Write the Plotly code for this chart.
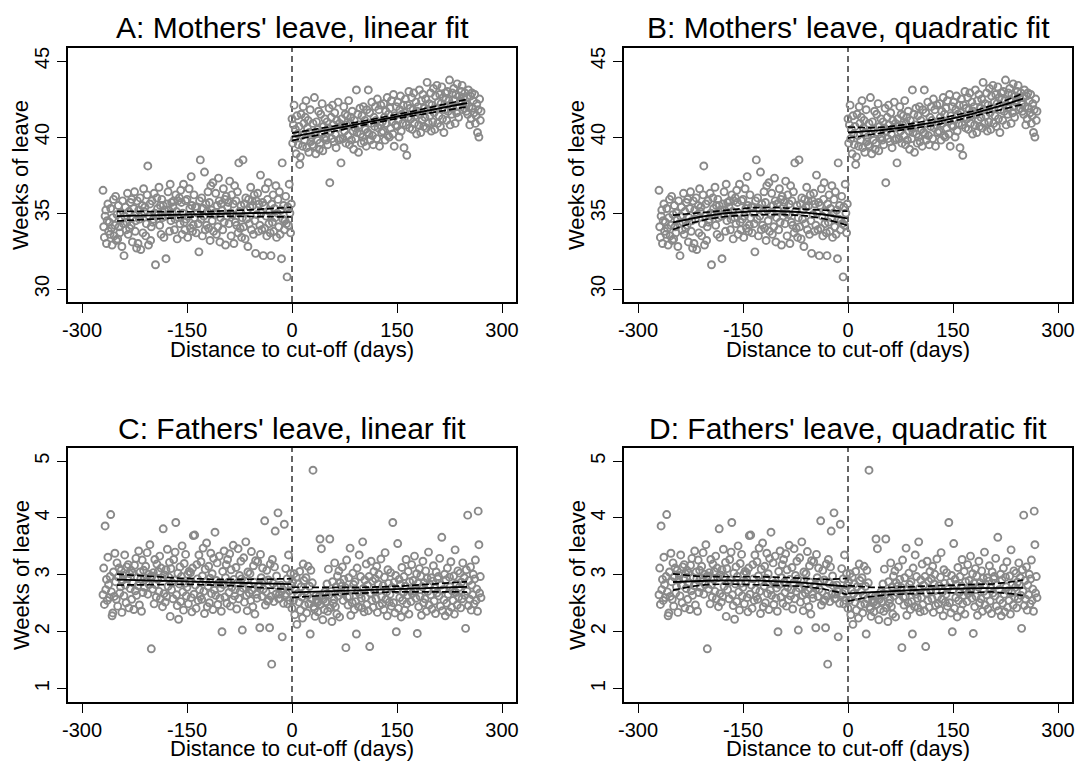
import numpy as np
import plotly.graph_objects as go

# Daily averages, days relative to the cut-off
days_before = list(range(-270, 0))
days_after = list(range(0, 271))

mothers_before = [
    36.5, 34.1, 33.4, 34.8, 35.2, 33.0, 34.5, 35.6, 33.8, 34.4,
    33.6, 35.3, 34.0, 32.9, 34.7, 35.9, 33.5, 34.2, 36.1, 33.2,
    34.9, 33.3, 35.5, 34.1, 33.7, 35.0, 34.6, 32.8, 35.8, 34.3,
    32.2, 34.8, 35.4, 33.9, 34.4, 36.3, 33.6, 35.1, 34.0, 35.7,
    34.2, 35.9, 33.1, 34.7, 35.3, 36.4, 33.8, 34.5, 32.7, 35.8,
    33.0, 35.2, 34.6, 36.0, 32.6, 34.9, 35.5, 33.7, 36.6, 35.1,
    35.4, 33.5, 34.3, 36.2, 38.1, 32.9, 34.8, 35.6, 33.2, 34.1,
    35.8, 34.4, 34.6, 36.3, 35.0, 31.6, 34.9, 36.0, 35.3, 34.9,
    36.7, 34.2, 35.5, 33.6, 35.9, 34.7, 35.5, 33.4, 35.2, 34.8,
    32.0, 35.6, 34.9, 36.4, 35.2, 33.8, 36.9, 34.5, 35.7, 35.0,
    35.4, 35.8, 33.9, 34.6, 36.2, 35.1, 33.3, 35.8, 34.7, 36.0,
    34.3, 36.5, 35.7, 33.6, 35.0, 36.9, 34.4, 33.9, 35.8, 34.6,
    35.9, 33.4, 34.8, 36.6, 35.3, 34.0, 37.4, 35.5, 33.8, 34.2,
    36.2, 34.7, 35.4, 33.7, 35.4, 35.0, 34.3, 32.45, 35.8, 38.5,
    34.6, 36.0, 33.5, 35.3, 34.8, 37.7, 33.9, 35.6, 34.2, 35.1,
    36.4, 34.0, 35.7, 33.2, 36.8, 35.2, 34.5, 37.0, 33.8, 35.0,
    34.9, 36.3, 33.6, 35.5, 34.1, 37.3, 35.8, 33.1, 34.7, 35.6,
    35.2, 33.9, 36.6, 34.4, 35.9, 32.9, 36.1, 34.8, 35.4, 35.7,
    34.3, 37.1, 35.0, 33.5, 36.2, 34.9, 35.6, 33.0, 36.8, 34.4,
    35.8, 34.2, 36.4, 33.7, 38.3, 35.1, 34.0, 35.5, 33.4, 34.7,
    38.5, 34.1, 35.6, 33.3, 36.0, 34.6, 35.2, 32.8, 35.9, 34.3,
    35.4, 36.7, 33.9, 35.8, 35.5, 33.6, 36.2, 34.5, 32.35, 35.8,
    34.9, 36.3, 33.8, 35.6, 34.2, 37.5, 35.0, 33.9, 35.7, 32.2,
    35.5, 34.0, 36.6, 34.8, 33.5, 35.9, 37.0, 34.3, 35.1, 33.7,
    32.2, 35.6, 34.4, 36.2, 33.8, 35.3, 34.7, 36.8, 33.4, 35.0,
    35.9, 34.1, 36.4, 33.6, 35.2, 32.0, 38.3, 34.6, 35.5, 33.9,
    34.5, 36.1, 34.3, 30.8, 35.4, 34.2, 36.9, 35.0, 33.7, 35.6,
]

mothers_after = [
    41.2, 39.6, 40.8, 42.1, 39.9, 40.5, 38.9, 41.4, 40.2, 39.5,
    40.7, 38.2, 38.7, 41.5, 40.1, 39.4, 42.0, 40.9, 39.8, 41.3,
    42.4, 39.3, 40.6, 41.1, 39.0, 40.3, 41.8, 39.7, 40.0, 39.5,
    40.9, 39.4, 42.6, 40.2, 38.9, 41.0, 39.8, 40.5, 41.7, 39.2,
    39.6, 41.5, 40.3, 42.2, 39.1, 40.7, 39.9, 41.2, 40.0, 39.8,
    41.0, 39.5, 40.6, 41.9, 37.0, 40.4, 41.3, 39.9, 42.1, 40.8,
    39.7, 41.6, 40.2, 39.3, 41.1, 40.6, 42.3, 39.8, 40.9, 39.9,
    38.3, 41.2, 40.7, 39.9, 42.0, 40.4, 41.5, 39.6, 40.8, 41.4,
    40.1, 42.4, 39.5, 40.9, 41.3, 39.8, 41.7, 40.4, 39.2, 41.1,
    40.6, 39.9, 43.1, 40.3, 41.5, 39.0, 40.8, 41.9, 40.2, 39.6,
    41.4, 40.0, 42.0, 39.7, 41.1, 40.5, 39.4, 41.8, 40.3, 43.1,
    40.2, 41.6, 39.8, 40.9, 42.3, 40.1, 39.5, 41.3, 40.7, 42.0,
    41.1, 39.9, 42.5, 40.6, 41.8, 39.4, 40.8, 42.1, 40.3, 41.0,
    40.4, 42.2, 41.3, 39.8, 41.7, 40.9, 42.6, 40.1, 41.5, 40.0,
    41.9, 40.6, 42.4, 41.0, 40.2, 42.8, 39.4, 41.4, 40.8, 42.0,
    40.7, 42.3, 41.1, 40.0, 41.8, 42.7, 40.4, 41.5, 40.9, 42.1,
    39.3, 41.6, 42.5, 40.8, 38.8, 42.1, 41.3, 43.0, 40.6, 41.9,
    41.2, 42.6, 40.5, 41.8, 42.9, 40.9, 41.4, 42.3, 40.2, 41.7,
    42.0, 40.8, 43.1, 41.5, 40.3, 42.4, 41.1, 42.8, 40.7, 41.9,
    41.3, 42.5, 40.6, 43.6, 41.8, 40.9, 42.2, 41.4, 42.9, 40.4,
    42.1, 41.0, 43.2, 41.6, 40.5, 42.7, 41.9, 43.4, 40.9, 42.3,
    41.4, 42.8, 40.7, 42.2, 43.3, 41.2, 42.6, 40.3, 41.8, 42.9,
    42.5, 41.1, 43.0, 41.7, 42.4, 43.75, 40.8, 42.1, 41.5, 42.9,
    41.9, 43.2, 42.4, 40.9, 42.8, 41.6, 43.5, 42.0, 41.3, 42.7,
    42.3, 42.4, 43.0, 43.4, 41.8, 42.6, 41.9, 42.9, 42.2, 41.7,
    42.6, 41.5, 43.1, 42.0, 40.8, 42.7, 41.2, 42.9, 41.9, 42.4,
    41.6, 42.8, 40.9, 41.4, 42.2, 40.3, 41.8, 40.0, 42.5, 41.1,
    41.7,
]

fathers_before = [
    2.65, 3.12, 2.48, 3.86, 2.74, 2.92, 2.55, 3.31, 2.83, 2.60,
    2.97, 4.06, 2.70, 2.28, 2.33, 3.05, 2.62, 3.38, 2.88, 2.57,
    3.21, 2.45, 2.96, 3.12, 2.68, 2.79, 3.08, 2.34, 2.91, 2.99,
    2.63, 3.35, 2.82, 2.51, 3.14, 2.94, 3.18, 2.42, 3.02, 2.76,
    3.08, 2.57, 3.04, 2.86, 2.39, 3.17, 2.72, 3.29, 2.64, 2.95,
    2.81, 3.42, 2.47, 3.05, 2.93, 2.36, 3.26, 2.69, 3.08, 2.78,
    2.94, 3.15, 2.88, 3.39, 2.66, 3.01, 2.83, 3.53, 2.97, 1.70,
    2.98, 2.75, 3.04, 2.49, 3.27, 2.83, 2.61, 3.19, 2.92, 3.06,
    2.71, 3.33, 2.58, 3.12, 2.95, 2.44, 3.81, 2.67, 3.00, 2.52,
    3.09, 2.62, 3.45, 2.80, 2.96, 3.22, 2.27, 3.11, 2.74, 2.86,
    2.58, 3.27, 2.91, 3.40, 3.92, 2.65, 2.46, 3.03, 2.22, 2.84,
    3.14, 2.53, 2.97, 3.51, 2.70, 2.38, 3.20, 2.85, 3.36, 2.63,
    2.78, 3.01, 2.49, 3.06, 2.87, 3.04, 2.60, 2.35, 3.12, 3.69,
    2.66, 3.70, 2.82, 2.41, 3.18, 2.93, 2.55, 3.35, 2.74, 2.62,
    3.23, 2.57, 2.98, 3.47, 2.71, 2.32, 3.10, 2.88, 3.56, 2.44,
    2.80, 3.15, 2.51, 2.94, 3.38, 2.67, 3.02, 2.39, 3.29, 2.73,
    3.75, 2.64, 2.90, 3.21, 2.48, 2.85, 3.33, 2.59, 2.77, 2.36,
    2.00, 3.06, 2.83, 3.42, 2.61, 2.95, 3.18, 2.50, 3.27, 2.87,
    2.69, 3.37, 2.45, 3.09, 2.78, 2.56, 3.52, 2.92, 2.63, 2.74,
    3.13, 2.40, 2.86, 3.46, 2.58, 2.99, 2.71, 3.24, 2.93, 2.03,
    2.77, 3.30, 2.52, 2.89, 3.58, 2.64, 2.37, 3.05, 2.81, 2.68,
    3.02, 2.55, 3.41, 2.73, 2.44, 3.16, 2.87, 2.31, 3.25, 2.66,
    2.59, 3.23, 2.80, 2.82, 2.07, 3.36, 2.95, 2.62, 3.12, 2.75,
    2.88, 3.95, 2.47, 2.70, 3.08, 2.54, 2.91, 2.56, 2.07, 3.19,
    2.62, 1.43, 3.27, 2.85, 2.53, 3.14, 3.77, 2.66, 2.98, 2.81,
    4.09, 2.58, 2.66, 2.59, 2.82, 2.71, 1.91, 2.74, 2.50, 3.89,
    2.64, 3.11, 2.67, 2.93, 2.49, 3.35, 2.72, 2.55, 3.02, 2.81,
]

fathers_after = [
    2.41, 2.88, 2.55, 3.02, 2.30, 2.73, 2.96, 2.13, 2.67, 2.84,
    2.52, 3.06, 2.38, 2.79, 2.61, 2.24, 3.19, 2.90, 2.47, 2.71,
    2.95, 2.33, 2.64, 3.15, 2.49, 2.80, 1.96, 3.08, 2.58, 2.86,
    4.84, 2.44, 2.40, 2.27, 2.63, 2.56, 2.51, 2.35, 2.54, 2.62,
    3.63, 2.48, 3.46, 2.59, 2.21, 2.57, 2.39, 2.70, 2.53, 2.66,
    2.84, 2.36, 3.10, 2.65, 3.63, 2.42, 2.71, 2.18, 2.88, 2.50,
    2.57, 3.21, 2.44, 2.79, 2.31, 2.98, 2.63, 3.07, 2.26, 2.86,
    2.69, 2.80, 3.14, 2.55, 2.92, 2.74, 2.78, 1.72, 3.26, 2.61,
    2.47, 2.95, 2.62, 3.47, 2.29, 2.74, 2.51, 3.03, 2.83, 2.39,
    2.88, 2.53, 1.96, 3.12, 2.71, 2.44, 3.35, 2.66, 2.97, 2.59,
    2.42, 3.58, 2.76, 2.35, 2.91, 2.60, 3.19, 2.48, 2.82, 2.37,
    2.97, 1.74, 2.68, 3.24, 2.55, 2.89, 2.43, 3.06, 2.72, 2.93,
    2.58, 3.15, 2.34, 2.84, 3.01, 2.46, 2.73, 3.28, 2.62, 2.49,
    2.81, 2.39, 2.96, 3.39, 2.57, 2.70, 2.28, 3.09, 2.85, 2.52,
    2.66, 3.04, 2.45, 2.78, 3.92, 2.51, 2.87, 2.33, 2.99, 2.00,
    2.74, 3.55, 2.41, 2.92, 2.60, 2.83, 2.26, 3.13, 2.55, 2.69,
    2.97, 2.38, 2.80, 3.27, 2.49, 2.64, 3.06, 2.31, 2.88, 2.72,
    2.53, 3.18, 2.67, 2.90, 2.72, 3.33, 2.76, 2.59, 3.02, 1.97,
    2.85, 2.44, 3.11, 2.62, 2.98, 2.29, 2.79, 3.24, 2.51, 2.86,
    2.58, 3.07, 2.36, 2.94, 2.71, 3.40, 2.47, 2.83, 2.65, 2.95,
    2.40, 2.89, 3.16, 2.54, 2.77, 2.32, 3.05, 2.68, 2.93, 2.97,
    2.63, 3.29, 2.45, 2.82, 3.66, 2.37, 2.74, 2.56, 3.01, 2.28,
    2.91, 2.50, 3.12, 2.66, 2.35, 2.96, 2.79, 3.23, 2.43, 2.72,
    2.55, 2.98, 2.31, 3.44, 2.69, 2.84, 2.47, 3.07, 2.61, 2.78,
    3.03, 2.42, 2.87, 2.58, 3.21, 2.83, 2.95, 2.64, 2.06, 3.09,
    2.71, 4.05, 2.46, 2.90, 2.57, 3.14, 2.38, 2.82, 2.65, 3.01,
    2.49, 2.93, 3.26, 2.55, 2.75, 2.36, 4.12, 3.53, 2.68, 2.97,
    2.60,
]

panel_titles = [
    "A: Mothers' leave, linear fit",
    "B: Mothers' leave, quadratic fit",
    "C: Fathers' leave, linear fit",
    "D: Fathers' leave, quadratic fit",
]
x_ticks = [-300, -150, 0, 150, 300]
x_tick_labels = ["-300", "-150", "0", "150", "300"]
mothers_ticks = [30, 35, 40, 45]
fathers_ticks = [1, 2, 3, 4, 5]
bandwidth = 250

assert len(mothers_before) == len(days_before) == len(fathers_before)
assert len(mothers_after) == len(days_after) == len(fathers_after)

W, H = 1079, 761
FONT = "Liberation Sans, Arial, sans-serif"
MARKER_GREY = "#898989"


def fit_ci(x, y, deg, lo, hi):
    """Polynomial OLS fit with a 95% confidence band for the mean."""
    x = np.asarray(x, float)
    y = np.asarray(y, float)
    keep = (x >= lo) & (x <= hi)
    xs, ys = x[keep], y[keep]
    X = np.vander(xs, deg + 1, increasing=True)
    beta, *_ = np.linalg.lstsq(X, ys, rcond=None)
    resid = ys - X @ beta
    s2 = resid @ resid / (len(ys) - deg - 1)
    cov = s2 * np.linalg.inv(X.T @ X)
    grid = np.linspace(xs.min(), xs.max(), 120)
    G = np.vander(grid, deg + 1, increasing=True)
    yhat = G @ beta
    se = np.sqrt(np.einsum("ij,jk,ik->i", G, cov, G))
    return grid, yhat, yhat - 1.96 * se, yhat + 1.96 * se


# pixel boxes of the four plot areas: (left, top, right, bottom)
boxes = [
    (68, 48, 516, 302),
    (624, 48, 1072, 302),
    (68, 448, 516, 702),
    (624, 448, 1072, 702),
]
# vertical centre of the x-axis title for each panel
xtitle_y = [349, 349, 748, 748]
specs = [
    (mothers_before, mothers_after, 1, [29.15, 45.86], mothers_ticks),
    (mothers_before, mothers_after, 2, [29.15, 45.86], mothers_ticks),
    (fathers_before, fathers_after, 1, [0.765, 5.23], fathers_ticks),
    (fathers_before, fathers_after, 2, [0.765, 5.23], fathers_ticks),
]

fig = go.Figure()
layout = {}
annotations = []
shapes = []

for i, ((left, top, right, bottom), (yb, ya, deg, yr, yt)) in enumerate(zip(boxes, specs)):
    n = i + 1
    sfx = "" if n == 1 else str(n)
    xa, ya_name = "x" + sfx, "y" + sfx

    fig.add_trace(go.Scatter(
        x=days_before + days_after, y=yb + ya, mode="markers",
        marker=dict(symbol="circle-open", size=7, color=MARKER_GREY, line=dict(width=1.9)),
        xaxis=xa, yaxis=ya_name, showlegend=False, hoverinfo="skip",
    ))
    for xs, ys, lo, hi in ((days_before, yb, -bandwidth, -1), (days_after, ya, 0, bandwidth)):
        g, yhat, low, high = fit_ci(xs, ys, deg, lo, hi)
        for band in (low, high):
            fig.add_trace(go.Scatter(
                x=g, y=band, mode="lines",
                line=dict(color="black", width=1.7, dash="7px,3px"),
                xaxis=xa, yaxis=ya_name, showlegend=False, hoverinfo="skip",
            ))
        fig.add_trace(go.Scatter(
            x=g, y=yhat, mode="lines", line=dict(color="black", width=1.9),
            xaxis=xa, yaxis=ya_name, showlegend=False, hoverinfo="skip",
        ))

    layout["xaxis" + sfx] = dict(
        domain=[left / W, right / W], anchor=ya_name, range=[-320, 320],
        tickvals=x_ticks, ticktext=x_tick_labels,
        ticks="outside", ticklen=9, tickwidth=1.4, tickcolor="black",
        showline=True, linecolor="black", linewidth=1.6, mirror=True,
        showgrid=False, zeroline=False, automargin=False,
        tickfont=dict(family=FONT, size=20, color="black"),
    )
    layout["yaxis" + sfx] = dict(
        domain=[1 - bottom / H, 1 - top / H], anchor=xa, range=yr,
        tickvals=yt, ticktext=[str(v) for v in yt],
        ticks="outside", ticklen=9, tickwidth=1.4, tickcolor="black",
        showline=True, linecolor="black", linewidth=1.6, mirror=True,
        showgrid=False, zeroline=False, tickangle=-90, automargin=False,
        tickfont=dict(family=FONT, size=20, color="black"),
    )

    cx = (left + right) / 2
    annotations.append(dict(
        text=panel_titles[i], x=cx / W, y=1 - (top - 20) / H, xref="paper", yref="paper",
        xanchor="center", yanchor="middle", showarrow=False,
        font=dict(family=FONT, size=30, color="black"),
    ))
    annotations.append(dict(
        text="Distance to cut-off (days)", x=cx / W, y=1 - xtitle_y[i] / H,
        xref="paper", yref="paper", xanchor="center", yanchor="middle", showarrow=False,
        font=dict(family=FONT, size=22, color="black"),
    ))
    annotations.append(dict(
        text="Weeks of leave", x=(left - 47) / W, y=1 - ((top + bottom) / 2) / H,
        xref="paper", yref="paper", xanchor="center", yanchor="middle", showarrow=False,
        textangle=-90, font=dict(family=FONT, size=22, color="black"),
    ))
    shapes.append(dict(
        type="line", xref=xa, yref=ya_name + " domain", x0=0, x1=0, y0=0, y1=1,
        line=dict(color="#333333", width=1.5, dash="6px,4px"), layer="below",
    ))

fig.update_layout(
    template="none",
    width=W, height=H, margin=dict(l=0, r=0, t=0, b=0, autoexpand=False),
    paper_bgcolor="white", plot_bgcolor="white",
    annotations=annotations, shapes=shapes, showlegend=False,
    **layout,
)

fig.write_html("out.html")
